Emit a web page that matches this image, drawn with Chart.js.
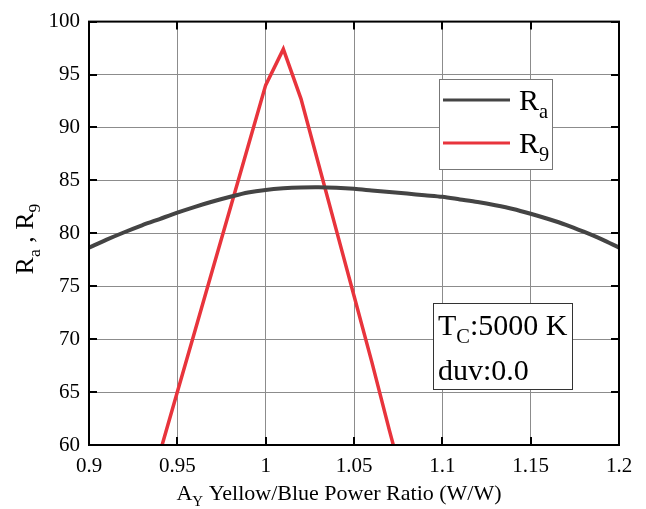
<!DOCTYPE html>
<html>
<head>
<meta charset="utf-8">
<script src="https://cdn.jsdelivr.net/npm/chart.js@4.4.0/dist/chart.umd.min.js"></script>
<style>
  html, body { margin: 0; padding: 0; background: #fff; }
  #wrap { width: 646px; height: 509px; }
</style>
</head>
<body>
<div id="wrap"><canvas id="c" width="646" height="509"></canvas></div>
<script>
// ---- data ----
const raX = [0.90,0.91,0.92,0.93,0.94,0.95,0.96,0.97,0.98,0.99,1.00,1.01,1.02,1.03,1.04,1.05,1.06,1.07,1.08,1.09,1.10,1.11,1.12,1.13,1.14,1.15,1.16,1.17,1.18,1.19,1.20];
const raValues = [78.65,79.4,80.1,80.75,81.35,81.95,82.5,83.0,83.45,83.85,84.1,84.25,84.33,84.35,84.3,84.2,84.05,83.9,83.75,83.6,83.45,83.2,82.95,82.65,82.3,81.85,81.35,80.8,80.15,79.45,78.65];
const r9X = [0.94,0.95,0.96,0.97,0.98,0.99,1.00,1.01,1.02,1.03,1.04,1.05,1.06,1.07,1.08];
const r9Values = [59.2,65.0,70.8,76.6,82.4,88.2,94.0,97.4,92.7,86.5,80.3,74.1,67.9,61.4,55.2];
const xTicks = [0.9,0.95,1.0,1.05,1.1,1.15,1.2];
const xTickLabels = ["0.9","0.95","1","1.05","1.1","1.15","1.2"];
const yTicks = [60,65,70,75,80,85,90,95,100];
const yTickLabels = ["60","65","70","75","80","85","90","95","100"];
const seriesNames = ["Ra","R9"];

const RA_COLOR = '#444444';
const R9_COLOR = '#e8343c';
const FONT = "'Liberation Serif', serif";
Chart.defaults.font.family = FONT;

function drawRich(ctx, segs, x, y, size) {
  let cx = x;
  for (const s of segs) {
    const fs = s.sub ? size * 0.68 : size;
    ctx.font = fs + 'px ' + FONT;
    const dy = s.sub ? size * 0.27 : 0;
    ctx.fillText(s.t, cx, y + dy);
    cx += ctx.measureText(s.t).width;
  }
  return cx - x;
}
function richWidth(ctx, segs, size) {
  let w = 0;
  for (const s of segs) {
    const fs = s.sub ? size * 0.68 : size;
    ctx.font = fs + 'px ' + FONT;
    w += ctx.measureText(s.t).width;
  }
  return w;
}

const decor = {
  id: 'decor',
  afterDraw(chart) {
    const ctx = chart.ctx;
    const a = chart.chartArea;
    const xs = chart.scales.x, ys = chart.scales.y;
    ctx.save();
    ctx.strokeStyle = '#000';
    ctx.lineWidth = 2;
    ctx.strokeRect(a.left, a.top, a.right - a.left, a.bottom - a.top);
    const tl = 8;
    ctx.beginPath();
    for (const v of xTicks) {
      const px = Math.round(xs.getPixelForValue(v));
      ctx.moveTo(px, a.bottom); ctx.lineTo(px, a.bottom - tl);
      ctx.moveTo(px, a.top); ctx.lineTo(px, a.top + tl);
    }
    for (const v of yTicks) {
      const py = Math.round(ys.getPixelForValue(v));
      ctx.moveTo(a.left, py); ctx.lineTo(a.left + tl, py);
      ctx.moveTo(a.right, py); ctx.lineTo(a.right - tl, py);
    }
    ctx.stroke();

    ctx.fillStyle = '#000';
    ctx.textBaseline = 'alphabetic';
    ctx.textAlign = 'left';
    const xt = [{t:'A'},{t:'Y',sub:true},{t:' Yellow/Blue Power Ratio (W/W)'}];
    const xw = richWidth(ctx, xt, 22);
    drawRich(ctx, xt, 339 - xw / 2, 500, 22);
    const yt = [{t:'R'},{t:'a',sub:true},{t:' , '},{t:'R'},{t:'9',sub:true}];
    const yw = richWidth(ctx, yt, 26);
    ctx.save();
    ctx.translate(33, 239);
    ctx.rotate(-Math.PI / 2);
    drawRich(ctx, yt, -yw / 2, 0, 26);
    ctx.restore();

    ctx.fillStyle = '#fff';
    ctx.fillRect(439, 79, 114, 91);
    ctx.strokeStyle = '#777';
    ctx.lineWidth = 1;
    ctx.strokeRect(439.5, 79.5, 113, 90);
    ctx.lineWidth = 3;
    ctx.strokeStyle = RA_COLOR;
    ctx.beginPath(); ctx.moveTo(443, 100); ctx.lineTo(510, 100); ctx.stroke();
    ctx.strokeStyle = R9_COLOR;
    ctx.beginPath(); ctx.moveTo(443, 143); ctx.lineTo(510, 143); ctx.stroke();
    ctx.fillStyle = '#000';
    drawRich(ctx, [{t:'R'},{t:'a',sub:true}], 519, 110, 30);
    drawRich(ctx, [{t:'R'},{t:'9',sub:true}], 519, 153, 30);

    ctx.fillStyle = '#fff';
    ctx.fillRect(433, 303, 140, 87);
    ctx.strokeStyle = '#333';
    ctx.lineWidth = 1;
    ctx.strokeRect(433.5, 303.5, 139, 86);
    ctx.fillStyle = '#000';
    drawRich(ctx, [{t:'T'},{t:'C',sub:true},{t:':5000 K'}], 438, 335, 30);
    drawRich(ctx, [{t:'duv:0.0'}], 438, 380, 30);
    ctx.restore();
  }
};

const tickFont = { family: "Liberation Serif", size: 21 };

new Chart(document.getElementById('c'), {
  type: 'line',
  data: {
    datasets: [
      {
        label: seriesNames[0],
        data: raX.map((x, i) => ({ x, y: raValues[i] })),
        borderColor: RA_COLOR,
        borderWidth: 4,
        pointRadius: 0,
        tension: 0.3,
        fill: false
      },
      {
        label: seriesNames[1],
        data: r9X.map((x, i) => ({ x, y: r9Values[i] })),
        borderColor: R9_COLOR,
        borderWidth: 3.5,
        pointRadius: 0,
        tension: 0,
        fill: false
      }
    ]
  },
  options: {
    responsive: false,
    animation: false,
    devicePixelRatio: 1,
    layout: { padding: { left: 0, top: 18, right: 27, bottom: 0 } },
    plugins: { legend: { display: false }, tooltip: { enabled: false } },
    scales: {
      x: {
        type: 'linear',
        min: 0.9, max: 1.2,
        afterBuildTicks(scale) { scale.ticks = xTicks.map(v => ({ value: v })); },
        afterFit(scale) { scale.height = 64; },
        ticks: {
          font: tickFont, color: '#000', padding: 9, maxRotation: 0, autoSkip: false,
          callback(v) { const i = xTicks.findIndex(t => Math.abs(t - v) < 1e-9); return i >= 0 ? xTickLabels[i] : ''; }
        },
        grid: { color: '#8c8c8c', lineWidth: 1, drawTicks: false },
        border: { display: false }
      },
      y: {
        type: 'linear',
        min: 60, max: 100,
        afterBuildTicks(scale) { scale.ticks = yTicks.map(v => ({ value: v })); },
        afterFit(scale) { scale.width = 89; },
        ticks: {
          font: tickFont, color: '#000', padding: 9, autoSkip: false,
          callback(v) { const i = yTicks.indexOf(v); return i >= 0 ? yTickLabels[i] : ''; }
        },
        grid: { color: '#8c8c8c', lineWidth: 1, drawTicks: false },
        border: { display: false }
      }
    }
  },
  plugins: [decor]
});
</script>
</body>
</html>
